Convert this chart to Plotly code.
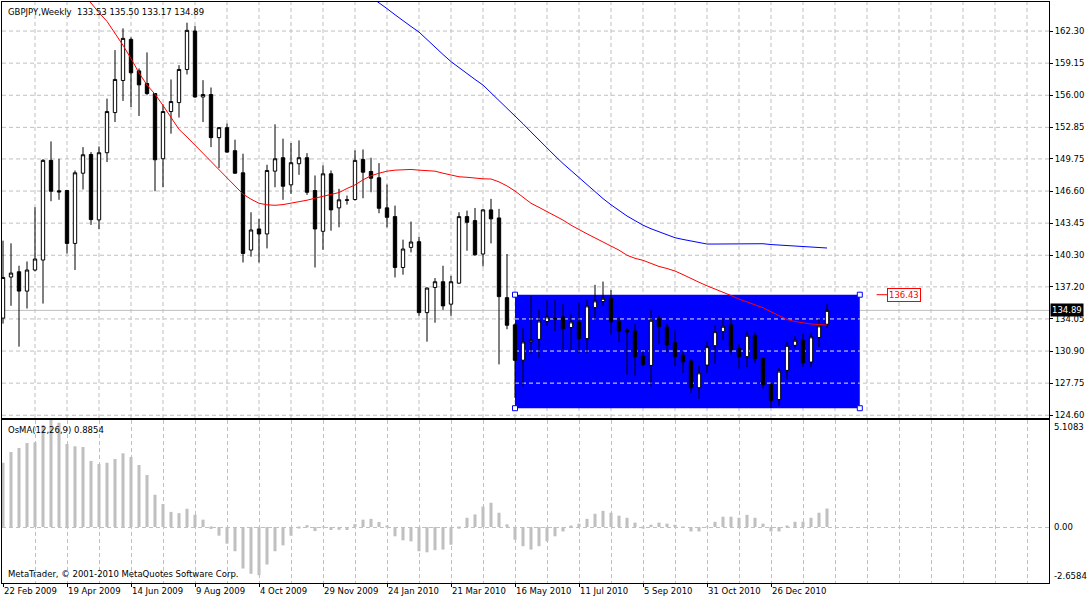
import plotly.graph_objects as go

# GBPJPY weekly bars, one per week starting 22 Feb 2009
opens = [134.13, 138.16, 138.68, 136.78, 138.85, 139.83, 149.61, 146.62, 146.65, 141.46,
         148.35, 150.19, 143.77, 150.36, 154.30, 157.45, 161.48, 158.39, 157.15, 156.17,
         149.77, 154.40, 155.28, 158.53, 162.30, 155.83, 156.07, 151.84, 152.82, 150.56,
         148.39, 140.81, 142.88, 142.39, 148.55, 149.87, 147.21, 149.28, 149.87, 146.65,
         142.65, 148.29, 144.95, 145.74, 145.77, 149.70, 148.52, 147.90, 144.95, 144.09,
         139.10, 141.07, 141.63, 134.67, 137.14, 137.70, 135.50, 137.56, 144.09, 143.70,
         140.42, 144.75, 143.96, 136.14, 133.47, 130.00, 131.79, 132.05, 133.79, 134.10,
         134.25, 133.20, 133.76, 132.12, 135.16, 135.75, 136.08, 133.85, 132.94, 132.87,
         130.41, 129.49, 134.08, 133.26, 131.72, 130.50, 129.92, 127.30, 129.52, 131.42,
         132.80, 133.47, 131.17, 130.35, 132.45, 130.18, 127.62, 126.14, 129.00, 131.46,
         131.96, 129.82, 132.22, 133.53]
highs = [141.73, 141.47, 139.27, 139.69, 145.01, 149.73, 151.47, 149.77, 146.72, 148.62,
         150.91, 150.42, 150.98, 155.67, 160.43, 162.56, 161.68, 158.63, 160.20, 156.20,
         155.11, 157.55, 158.95, 163.12, 162.79, 157.48, 156.76, 152.88, 153.22, 151.64,
         150.26, 144.52, 143.87, 149.18, 153.15, 151.74, 151.31, 151.57, 150.32, 148.13,
         149.11, 148.62, 146.82, 146.16, 150.59, 150.68, 149.87, 149.34, 147.24, 145.17,
         141.83, 143.60, 142.12, 137.15, 138.06, 139.27, 138.28, 144.52, 144.68, 144.94,
         144.85, 145.83, 144.85, 140.42, 133.60, 133.14, 136.32, 135.00, 135.89, 135.89,
         135.50, 134.52, 135.66, 135.89, 137.40, 137.72, 136.88, 134.25, 133.17, 133.53,
         130.91, 134.90, 134.35, 133.59, 132.94, 130.91, 130.09, 129.52, 131.89, 133.47,
         134.12, 134.12, 131.56, 132.87, 132.71, 130.31, 127.78, 129.26, 131.79, 132.38,
         132.61, 132.71, 134.09, 135.50]
lows = [133.59, 135.34, 131.33, 135.07, 138.71, 135.56, 145.60, 145.74, 140.48, 138.85,
        146.75, 143.28, 142.85, 149.44, 153.37, 155.44, 154.85, 153.96, 156.00, 146.58,
        146.97, 152.23, 153.81, 158.04, 155.75, 153.37, 150.91, 148.85, 150.35, 148.30,
        139.59, 140.16, 139.59, 140.97, 146.97, 145.74, 146.33, 148.19, 146.22, 139.10,
        140.84, 142.71, 143.04, 145.27, 145.67, 145.89, 146.48, 144.42, 143.04, 138.12,
        138.39, 140.58, 134.35, 131.82, 133.68, 134.94, 134.35, 137.50, 140.74, 140.25,
        139.20, 141.46, 129.59, 133.04, 126.30, 127.45, 130.63, 130.25, 133.37, 132.87,
        131.07, 131.00, 130.73, 130.73, 133.92, 135.33, 132.54, 131.82, 128.61, 128.45,
        129.42, 127.45, 131.56, 130.73, 129.42, 128.76, 126.80, 126.21, 128.76, 129.66,
        131.96, 130.58, 129.19, 129.32, 129.75, 127.23, 125.33, 125.50, 128.12, 131.17,
        129.36, 129.32, 131.30, 133.17]
closes = [138.12, 138.55, 136.78, 138.85, 139.93, 149.61, 146.58, 146.52, 141.46, 148.39,
          150.16, 143.80, 150.36, 154.40, 157.55, 161.58, 158.20, 157.02, 156.17, 149.67,
          154.40, 155.38, 158.53, 162.37, 155.83, 156.07, 151.84, 152.82, 150.42, 148.35,
          140.48, 142.78, 142.39, 148.62, 149.77, 147.07, 149.38, 149.87, 146.48, 142.88,
          148.29, 144.75, 145.74, 145.70, 149.61, 148.45, 147.86, 144.91, 144.02, 139.10,
          140.91, 141.60, 134.67, 137.08, 137.70, 135.33, 137.70, 144.09, 143.53, 140.35,
          144.75, 143.87, 136.24, 133.43, 129.99, 131.79, 131.96, 133.85, 134.25, 134.05,
          133.10, 133.76, 132.12, 135.33, 135.82, 136.08, 133.76, 132.87, 132.77, 130.35,
          129.59, 133.92, 133.29, 131.49, 130.35, 129.84, 127.30, 128.76, 131.33, 132.80,
          133.33, 131.01, 130.35, 132.45, 130.15, 127.62, 126.05, 128.93, 131.46, 131.96,
          129.75, 132.29, 133.37, 134.89]

# OsMA(12,26,9) histogram
osma = [3.06, 3.56, 3.75, 3.99, 4.03, 4.85, 5.1083, 4.95, 3.94, 3.84,
        3.80, 3.14, 3.00, 3.06, 3.23, 3.51, 3.33, 2.95, 2.47, 1.53,
        1.10, 0.72, 0.66, 0.87, 0.58, 0.35, -0.09, -0.41, -0.79, -1.15,
        -1.97, -2.22, -2.29, -1.78, -1.15, -0.87, -0.41, -0.03, 0.09, -0.19,
        -0.02, -0.14, -0.13, -0.14, 0.14, 0.35, 0.39, 0.24, 0.03, -0.44,
        -0.63, -0.68, -1.15, -1.20, -1.10, -1.07, -0.84, -0.08, 0.44, 0.60,
        0.98, 1.15, 0.68, 0.13, -0.60, -0.91, -1.07, -0.91, -0.68, -0.44,
        -0.21, 0.06, 0.16, 0.39, 0.63, 0.77, 0.68, 0.54, 0.44, 0.21,
        -0.06, 0.11, 0.21, 0.16, 0.11, -0.02, -0.21, -0.21, -0.02, 0.25,
        0.49, 0.49, 0.44, 0.58, 0.44, 0.16, -0.21, -0.21, 0.06, 0.25,
        0.25, 0.44, 0.68, 0.8854]

# moving averages (starting at the given bar)
red_ma_start = 10
red_ma = [166.0, 165.0, 164.1, 163.25, 162.1, 160.9, 159.6, 158.2, 157.0, 156.1,
          155.0, 153.8, 152.65, 151.9, 151.1, 150.3, 149.5, 148.7, 147.8, 147.0,
          146.3, 145.8, 145.4, 145.25, 145.2, 145.27, 145.4, 145.55, 145.7, 145.9,
          146.1, 146.25, 146.45, 146.85, 147.2, 147.7, 148.1, 148.35, 148.55, 148.65,
          148.7, 148.72, 148.65, 148.6, 148.55, 148.35, 148.15, 148.0, 147.95, 147.85,
          147.8, 147.78, 147.5, 147.1, 146.6, 146.0, 145.4, 145.0, 144.6, 144.2,
          143.75, 143.25, 142.8, 142.4, 142.0, 141.6, 141.2, 140.8, 140.3, 140.0,
          139.8, 139.5, 139.2, 139.0, 138.75, 138.4, 138.0, 137.65, 137.3, 137.0,
          136.65, 136.35, 136.0, 135.7, 135.4, 135.15, 134.75, 134.4, 134.0, 133.8,
          133.65, 133.55, 133.5, 133.45]
blue_ma_start = 45
blue_ma = [166.2, 165.65, 165.1, 164.5, 163.9, 163.3, 162.75, 162.2, 161.45, 160.7,
           160.0, 159.3, 158.7, 158.1, 157.55, 157.0, 156.25, 155.5, 154.75, 154.03,
           153.2, 152.4, 151.6, 150.78, 150.05, 149.3, 148.6, 147.93, 147.25, 146.55,
           145.86, 145.25, 144.7, 144.15, 143.7, 143.25, 142.9, 142.6, 142.3, 142.02,
           141.85, 141.7, 141.55, 141.4, 141.4, 141.4, 141.4, 141.4, 141.45, 141.45,
           141.43, 141.35, 141.3, 141.3, 141.25, 141.17, 141.12, 141.05, 141.01]

date_labels = ["22 Feb 2009", "19 Apr 2009", "14 Jun 2009", "9 Aug 2009", "4 Oct 2009",
               "29 Nov 2009", "24 Jan 2010", "21 Mar 2010", "16 May 2010", "11 Jul 2010",
               "5 Sep 2010", "31 Oct 2010", "26 Dec 2010"]
price_ticks = [162.30, 159.15, 156.00, 152.85, 149.75, 146.60, 143.45, 140.30,
               137.20, 134.05, 130.90, 127.75, 124.60]

osma_max = 5.1083
osma_min = -2.6584

# rectangle object drawn on the chart
rect_left = 64
rect_right = 107.1
rect_top = 136.43
rect_bottom = 125.29

bars = list(range(len(opens)))
weeks_per_label = 8
label_pos = [i * weeks_per_label for i in range(len(date_labels))]
x_lo, x_hi = -0.125, 130.75
grid_pos = list(range(0, int(x_hi) + 1, 4))

grid_color = "#C0C0C0"
grid_dash = "4px,3px"
grid = dict(gridcolor=grid_color, griddash=grid_dash, gridwidth=1)
frame = dict(showline=True, linecolor="black", linewidth=1, mirror=True, zeroline=False)

fig = go.Figure()

fig.add_trace(go.Candlestick(
    x=bars, open=opens, high=highs, low=lows, close=closes,
    increasing=dict(line=dict(color="black", width=1), fillcolor="white"),
    decreasing=dict(line=dict(color="black", width=1), fillcolor="black"),
    whiskerwidth=0, hoverinfo="skip", xaxis="x", yaxis="y",
))

fig.add_trace(go.Scatter(
    x=list(range(red_ma_start, red_ma_start + len(red_ma))), y=red_ma,
    mode="lines", line=dict(color="#FF0000", width=1), xaxis="x", yaxis="y",
))
fig.add_trace(go.Scatter(
    x=list(range(blue_ma_start, blue_ma_start + len(blue_ma))), y=blue_ma,
    mode="lines", line=dict(color="#0000FF", width=1), xaxis="x", yaxis="y",
))

# selection handles on the rectangle corners
fig.add_trace(go.Scatter(
    x=[rect_left, rect_left, rect_right, rect_right],
    y=[rect_top, rect_bottom, rect_top, rect_bottom],
    mode="markers", cliponaxis=False,
    marker=dict(symbol="square", size=5, color="white", line=dict(color="#0000FF", width=1)),
    xaxis="x", yaxis="y",
))

fig.add_trace(go.Bar(
    x=bars, y=osma, width=0.38,
    marker=dict(color="#C0C0C0", line=dict(width=0)),
    xaxis="x2", yaxis="y2",
))

# main pane grid drawn as shapes so the rectangle can hide it
for gx in grid_pos[1:]:
    fig.add_shape(type="line", xref="x", yref="y domain", x0=gx, x1=gx, y0=0, y1=1,
                  line=dict(color=grid_color, width=1, dash=grid_dash), layer="below")
for v in price_ticks:
    fig.add_shape(type="line", xref="x domain", yref="y", x0=0, x1=1, y0=v, y1=v,
                  line=dict(color=grid_color, width=1, dash=grid_dash), layer="below")

# blue rectangle, its inner grid and the current price line
fig.add_shape(type="rect", xref="x", yref="y", x0=rect_left, x1=rect_right,
              y0=rect_bottom, y1=rect_top, fillcolor="#0000FF",
              line=dict(width=0), layer="below")
for v in price_ticks:
    if rect_bottom < v < rect_top:
        fig.add_shape(type="line", xref="x", yref="y", x0=rect_left, x1=rect_right,
                      y0=v, y1=v, line=dict(color="#E8E8F0", width=1, dash=grid_dash),
                      layer="below")
fig.add_shape(type="line", xref="x domain", yref="y", x0=0, x1=1,
              y0=closes[-1], y1=closes[-1], line=dict(color="#C0C0C0", width=1),
              layer="below")

# price label of the rectangle top
label_x = rect_right + 3.4
fig.add_shape(type="line", xref="x", yref="y", x0=rect_right + 2.1, x1=label_x,
              y0=rect_top, y1=rect_top, line=dict(color="#FF0000", width=1))

font_name = "DejaVu Sans"
fs = 8.5

fig.add_annotation(x=label_x, y=rect_top, xref="x", yref="y", xanchor="left",
                   text=f"{rect_top:.2f}", showarrow=False,
                   font=dict(family=font_name, size=fs, color="#FF0000"),
                   bordercolor="#FF0000", borderwidth=1, borderpad=1, bgcolor="white")

# last price box on the right axis
fig.add_annotation(x=1, y=closes[-1], xref="paper", yref="y", xanchor="left", xshift=1,
                   text=f"{closes[-1]:.2f}", showarrow=False,
                   font=dict(family=font_name, size=fs, color="white"),
                   bgcolor="black", borderpad=1)

# header and indicator texts
fig.add_annotation(x=0, y=1, xref="paper", yref="paper", xanchor="left", yanchor="top",
                   xshift=4, yshift=-3, showarrow=False,
                   text=f"GBPJPY,Weekly  {opens[-1]:.2f} {highs[-1]:.2f} {lows[-1]:.2f} {closes[-1]:.2f}",
                   font=dict(family=font_name, size=fs, color="black"))
fig.add_annotation(x=0, y=osma_max, xref="paper", yref="y2", xanchor="left", yanchor="top",
                   xshift=4, yshift=-3, showarrow=False,
                   text=f"OsMA(12,26,9) {osma[-1]:.4f}",
                   font=dict(family=font_name, size=fs, color="black"))
fig.add_annotation(x=0, y=osma_min, xref="paper", yref="y2", xanchor="left", yanchor="bottom",
                   xshift=4, yshift=2, showarrow=False,
                   text="MetaTrader, © 2001-2010 MetaQuotes Software Corp.",
                   font=dict(family=font_name, size=fs, color="black"))

# OsMA axis labels
for val, anchor in [(osma_max, "top"), (0, "middle"), (osma_min, "bottom")]:
    txt = "0.00" if val == 0 else f"{val:.4f}"
    fig.add_annotation(x=1, y=val, xref="paper", yref="y2", xanchor="left", yanchor=anchor,
                       xshift=3, showarrow=False, text=txt,
                       font=dict(family=font_name, size=fs, color="black"))

fig.update_layout(
    width=1087, height=600,
    margin=dict(l=2, r=38, t=2, b=17, autoexpand=False),
    paper_bgcolor="white", plot_bgcolor="white",
    showlegend=False, boxgap=0.4,
    font=dict(family=font_name, size=fs, color="black"),
    xaxis=dict(domain=[0, 1], anchor="y", range=[x_lo, x_hi],
               showticklabels=False, ticks="", showgrid=False,
               rangeslider=dict(visible=False), **frame),
    yaxis=dict(domain=[0.284, 1], anchor="x", side="right", range=[124.33, 165.15],
               tickvals=price_ticks, ticktext=[f"{v:.2f}" for v in price_ticks],
               ticks="outside", ticklen=3, tickcolor="black",
               showgrid=False, **frame),
    xaxis2=dict(domain=[0, 1], anchor="y2", range=[x_lo, x_hi],
                tickvals=label_pos, ticktext=date_labels,
                ticks="outside", ticklen=3, tickcolor="black",
                ticklabelposition="outside right",
                showgrid=True, **grid,
                minor=dict(tickvals=grid_pos, showgrid=True, **grid), **frame),
    yaxis2=dict(domain=[0, 0.2814], anchor="x2", side="right", range=[osma_min, osma_max],
                tickvals=[0], showticklabels=False, ticks="",
                showgrid=True, **grid, **frame),
)

fig.write_html("out.html", config={"displayModeBar": False},
               post_script="document.body.style.margin='0';")
